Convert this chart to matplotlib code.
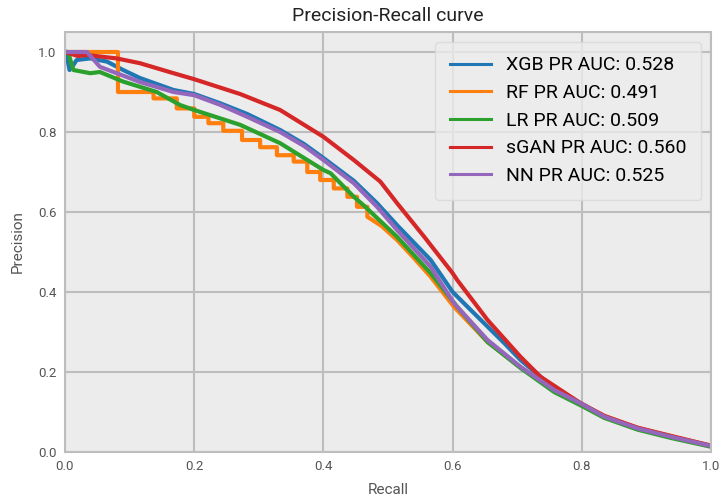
import numpy as np
import matplotlib
matplotlib.use("Agg")
import matplotlib.pyplot as plt

plt.rcParams['font.family'] = ['Roboto', 'DejaVu Sans']

# values
xgb_recall = [0, 0.004, 0.007, 0.012, 0.018, 0.039, 0.065, 0.09, 0.116, 0.168, 0.2, 0.24, 0.282,
              0.333, 0.37, 0.4, 0.447, 0.483, 0.514, 0.566, 0.6, 0.628, 0.68, 0.705, 0.757, 0.8,
              0.835, 0.886, 0.938, 1.0]
xgb_precision = [1.0, 0.98, 0.955, 0.965, 0.98, 0.984, 0.976, 0.955, 0.935, 0.905, 0.895, 0.872, 0.845,
                 0.805, 0.77, 0.735, 0.678, 0.622, 0.567, 0.48, 0.40, 0.355, 0.272, 0.23, 0.16, 0.12,
                 0.088, 0.058, 0.037, 0.015]

# RF: stair part (recall where precision drops, level after the drop)
rf_step_recall = [0, 0.082, 0.137, 0.173, 0.2, 0.222, 0.245, 0.274, 0.302, 0.328, 0.354, 0.375,
                  0.395, 0.416, 0.437, 0.452, 0.468]
rf_step_precision = [1.0, 0.90, 0.884, 0.859, 0.838, 0.822, 0.803, 0.78, 0.762, 0.742, 0.726, 0.70,
                     0.68, 0.659, 0.638, 0.613, 0.588]
rf_tail_recall = [0.49, 0.514, 0.54, 0.566, 0.602, 0.654, 0.705, 0.757, 0.8, 0.835, 0.886, 0.938, 1.0]
rf_tail_precision = [0.565, 0.53, 0.485, 0.438, 0.363, 0.275, 0.212, 0.155, 0.12, 0.09, 0.06, 0.04, 0.015]

lr_recall = [0, 0.005, 0.01, 0.013, 0.039, 0.054, 0.09, 0.142, 0.178, 0.2, 0.271, 0.333, 0.4, 0.411,
             0.447, 0.462, 0.514, 0.566, 0.607, 0.654, 0.705, 0.757, 0.8, 0.835, 0.886, 0.938, 1.0]
lr_precision = [1.0, 1.0, 0.97, 0.955, 0.947, 0.95, 0.926, 0.90, 0.8675, 0.855, 0.818, 0.772, 0.705, 0.697,
                0.638, 0.617, 0.538, 0.447, 0.363, 0.275, 0.21, 0.15, 0.115, 0.085, 0.056, 0.035, 0.013]

sgan_recall = [0, 0.02, 0.034, 0.08, 0.116, 0.168, 0.2, 0.271, 0.333, 0.4, 0.447, 0.488,
               0.514, 0.556, 0.6, 0.607, 0.654, 0.705, 0.736, 0.798, 0.835, 0.886, 0.938, 1.0]
sgan_precision = [1.0, 0.99, 0.9925, 0.984, 0.972, 0.947, 0.932, 0.895, 0.855, 0.788, 0.73,
                  0.676, 0.622, 0.538, 0.447, 0.43, 0.33, 0.238, 0.188, 0.122, 0.09, 0.061, 0.04, 0.016]

nn_recall = [0, 0.034, 0.054, 0.08, 0.116, 0.168, 0.2, 0.24, 0.282, 0.333, 0.37, 0.4, 0.447, 0.483,
             0.514, 0.566, 0.602, 0.654, 0.705, 0.757, 0.8, 0.835, 0.886, 0.938, 1.0]
nn_precision = [1.0, 1.0, 0.963, 0.947, 0.925, 0.90, 0.892, 0.868, 0.838, 0.80, 0.765, 0.73, 0.672, 0.613,
                0.555, 0.463, 0.372, 0.28, 0.213, 0.155, 0.12, 0.088, 0.059, 0.038, 0.015]

labels = ["XGB PR AUC: 0.528", "RF PR AUC: 0.491", "LR PR AUC: 0.509",
          "sGAN PR AUC: 0.560", "NN PR AUC: 0.525"]
colors = ["#1f77b4", "#ff7f0e", "#2ca02c", "#d62728", "#9467bd"]

# build the RF stair vertices
sx = np.repeat(rf_step_recall, 2)[1:]
sy = np.repeat(rf_step_precision, 2)[:-1]
rf_recall = np.concatenate([sx, rf_tail_recall])
rf_precision = np.concatenate([sy, rf_tail_precision])

fig = plt.figure(figsize=(7.19, 5.04), dpi=100)
ax = fig.add_axes([0.0904, 0.1032, 0.8986, 0.8333])
ax.set_facecolor("#ececec")

curves = [(xgb_recall, xgb_precision), (rf_recall, rf_precision), (lr_recall, lr_precision),
          (sgan_recall, sgan_precision), (nn_recall, nn_precision)]
for (r, p), lab, c in zip(curves, labels, colors):
    ax.plot(r, p, color=c, lw=3, label=lab, solid_joinstyle="round")

ax.set_xlim(0, 1)
ax.set_ylim(0, 1.05)
ax.set_xticks([0, 0.2, 0.4, 0.6, 0.8, 1.0])
ax.set_yticks([0, 0.2, 0.4, 0.6, 0.8, 1.0])
ax.grid(True, color="#bdbdbd", lw=1.5)
ax.set_axisbelow(True)
for s in ax.spines.values():
    s.set_color("#bdbdbd")
    s.set_linewidth(1.5)
ax.tick_params(length=0, labelsize=9.5, labelcolor="#555555", pad=6)

ax.set_xlabel("Recall", fontsize=11, color="#555555")
ax.xaxis.set_label_coords(0.5, -0.075)
ax.set_ylabel("Precision", fontsize=11, color="#555555")
ax.yaxis.set_label_coords(-0.062, 0.5)
ax.set_title("Precision-Recall curve", fontsize=14, color="#222222", pad=8)

leg = ax.legend(loc="upper right", fontsize=14, handlelength=2.15, handletextpad=0.77,
                labelspacing=0.5, borderpad=0.75, borderaxespad=0.5, framealpha=0.8,
                facecolor="#ececec", edgecolor="#d8d8d8")
for h in leg.get_lines():
    h.set_linewidth(2.2)

fig.savefig("out.png", dpi=100)
